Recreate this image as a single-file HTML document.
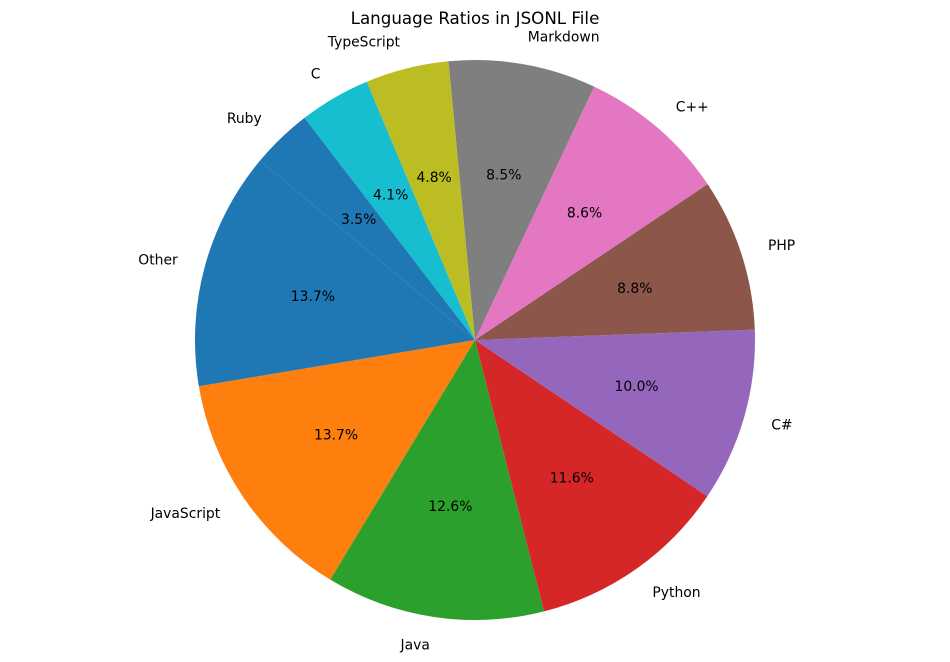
<!DOCTYPE html>
<html><head><meta charset="utf-8"><style>
html,body{margin:0;padding:0;background:#fff;}
svg{display:block;font-family:"DejaVu Sans","Liberation Sans",sans-serif;}
</style></head><body>
<svg id="chart" width="950" height="662" viewBox="0 0 950 662">
<text x="475" y="24" text-anchor="middle" font-size="16.7">Language Ratios in JSONL File</text>
<g id="slices"></g><g id="labels"></g>
</svg>
<script>
const categories = ["JavaScript","Java","Python","C#","PHP","C++","Markdown","TypeScript","C","Ruby","Other"];
const values = [13.7,12.6,11.6,10.0,8.8,8.6,8.5,4.8,4.1,3.5,13.7];
const colors = ["#ff7f0e","#2ca02c","#d62728","#9467bd","#8c564b","#e377c2","#7f7f7f","#bcbd22","#17becf","#1f77b4","#1f77b4"];
const cx=475, cy=340, r=280, startDeg=189.5;
const NS="http://www.w3.org/2000/svg";
const total=values.reduce((a,b)=>a+b,0);
const gS=document.getElementById('slices'), gL=document.getElementById('labels');
function pt(deg,rad){const a=deg*Math.PI/180;return [cx+rad*Math.cos(a), cy-rad*Math.sin(a)];}
let ang=startDeg;
values.forEach((v,i)=>{
  const sweep=v/total*360, a0=ang, a1=ang+sweep;
  const p0=pt(a0,r), p1=pt(a1,r);
  const path=document.createElementNS(NS,'path');
  path.setAttribute('d',`M${cx},${cy}L${p0[0]},${p0[1]}A${r},${r} 0 ${sweep>180?1:0} 0 ${p1[0]},${p1[1]}Z`);
  path.setAttribute('fill',colors[i]);
  
  
  gS.appendChild(path);
  const mid=(a0+a1)/2;
  const lp=pt(mid,r*1.1);
  const t=document.createElementNS(NS,'text');
  t.setAttribute('x',lp[0]); t.setAttribute('y',lp[1]+5);
  t.setAttribute('font-size','13.9');
  t.setAttribute('text-anchor', Math.cos(mid*Math.PI/180)>=0?'start':'end');
  t.textContent=categories[i];
  
  
  gL.appendChild(t);
  const pp=pt(mid,r*0.6);
  const tp=document.createElementNS(NS,'text');
  tp.setAttribute('x',pp[0]); tp.setAttribute('y',pp[1]+5);
  tp.setAttribute('font-size','13.9'); tp.setAttribute('text-anchor','middle');
  tp.textContent=v.toFixed(1)+'%';
  
  
  gL.appendChild(tp);
  ang=a1;
});
</script>
</body></html>
